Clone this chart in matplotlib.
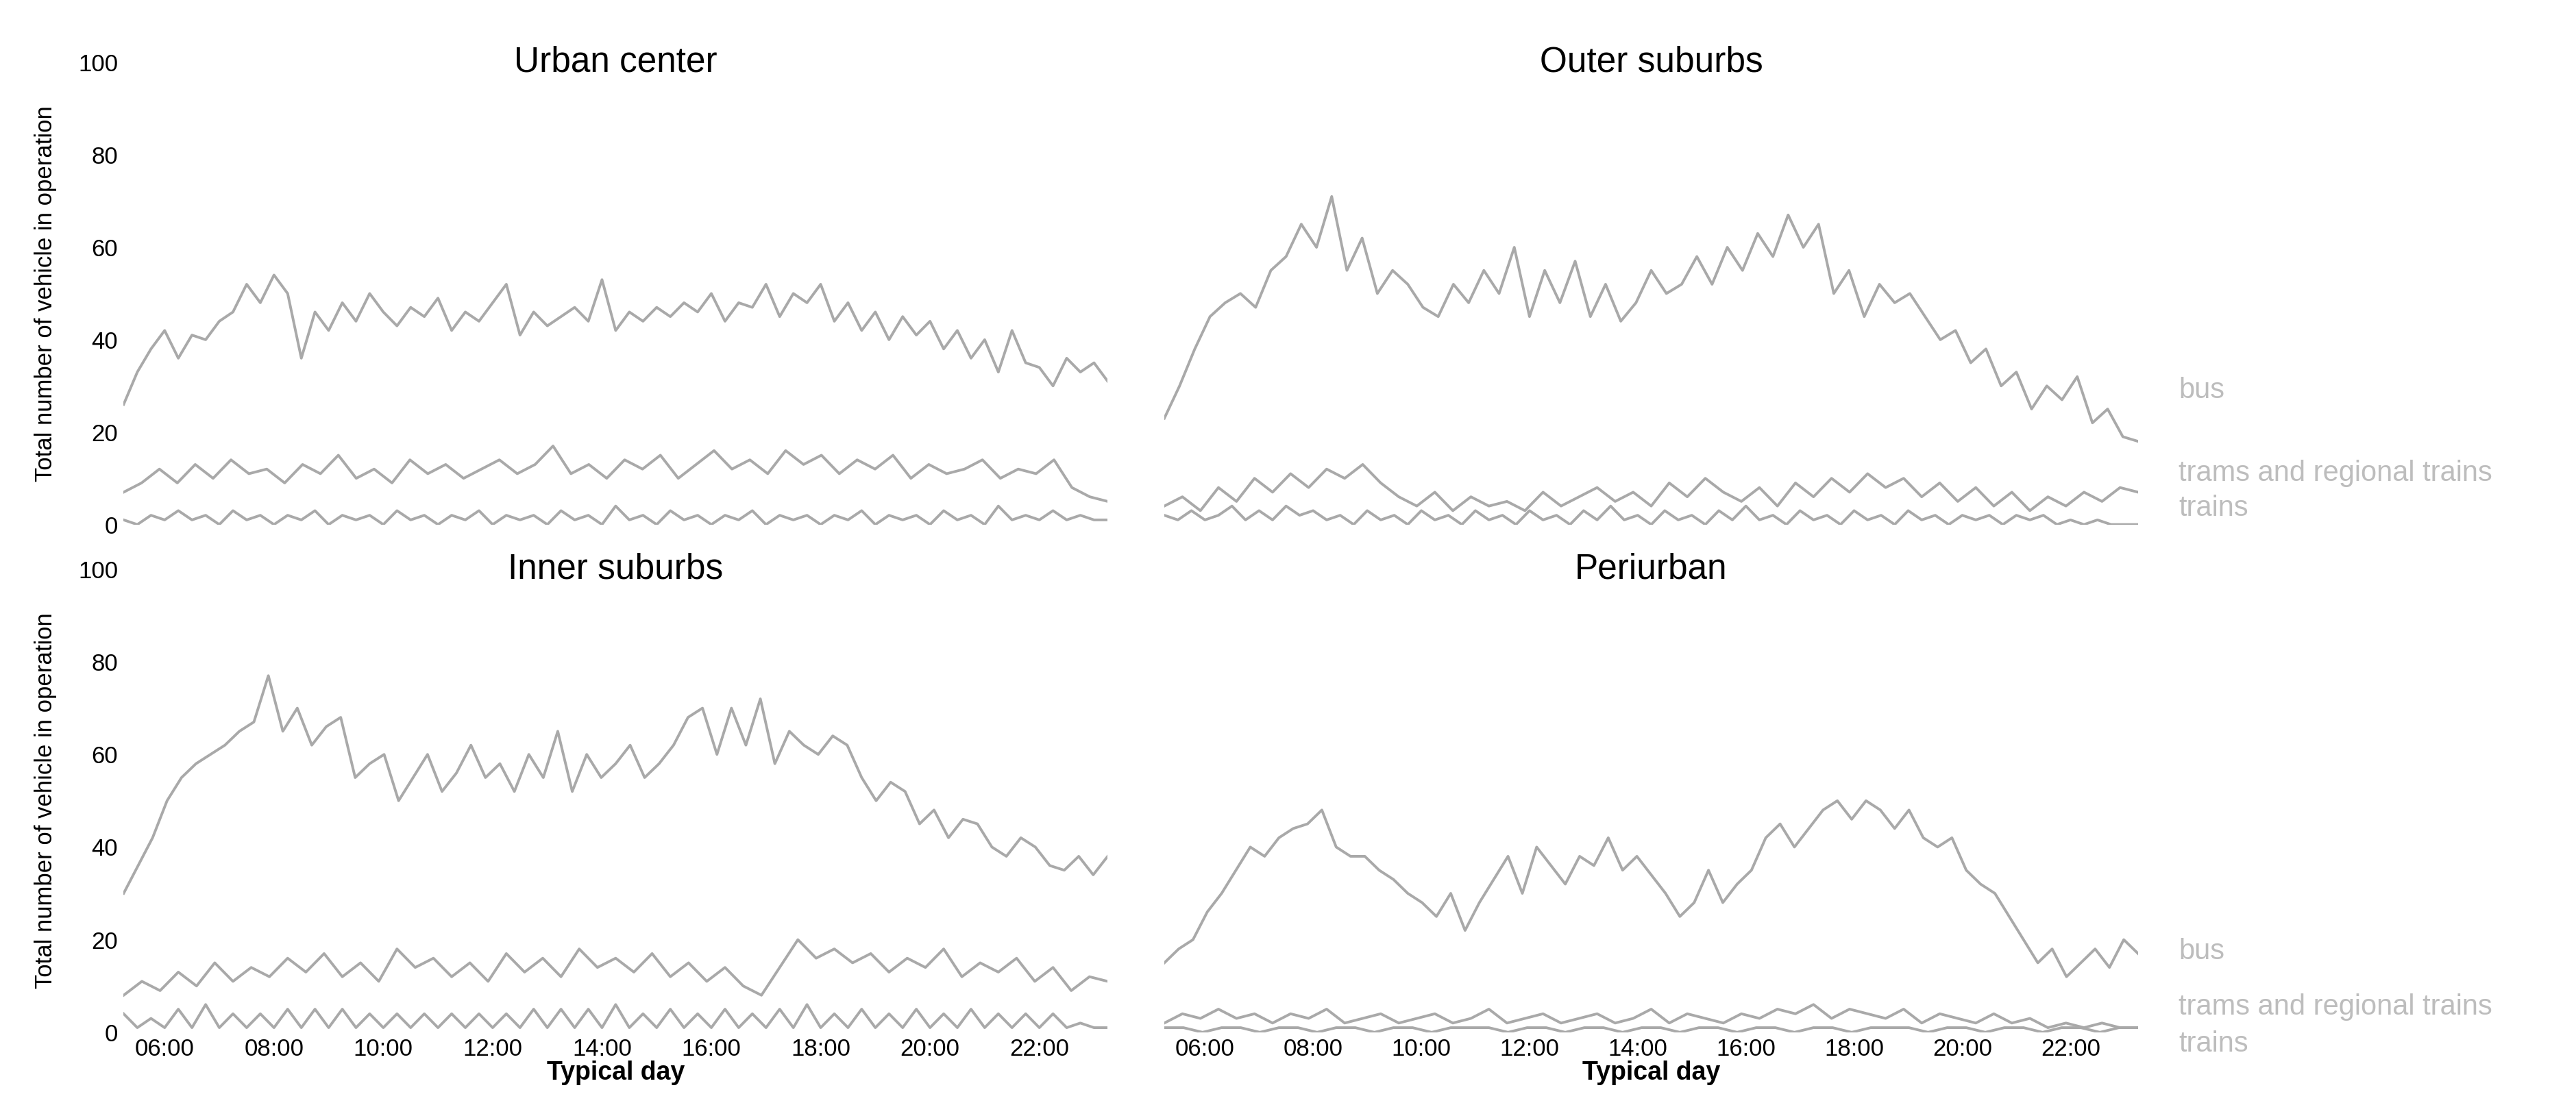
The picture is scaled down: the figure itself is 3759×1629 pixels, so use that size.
import numpy as np
import matplotlib.pyplot as plt

plt.rcParams['font.family'] = ['Liberation Sans', 'DejaVu Sans']

# bus values, read every 15 min from 05:15 to 23:15
uc_bus = [26, 33, 38, 42, 36, 41, 40, 44, 46, 52, 48, 54, 50, 36, 46, 42, 48, 44, 50, 46,
          43, 47, 45, 49, 42, 46, 44, 48, 52, 41, 46, 43, 45, 47, 44, 53, 42, 46, 44, 47,
          45, 48, 46, 50, 44, 48, 47, 52, 45, 50, 48, 52, 44, 48, 42, 46, 40, 45, 41, 44,
          38, 42, 36, 40, 33, 42, 35, 34, 30, 36, 33, 35, 31]
os_bus = [23, 30, 38, 45, 48, 50, 47, 55, 58, 65, 60, 71, 55, 62, 50, 55, 52, 47, 45, 52,
          48, 55, 50, 60, 45, 55, 48, 57, 45, 52, 44, 48, 55, 50, 52, 58, 52, 60, 55, 63,
          58, 67, 60, 65, 50, 55, 45, 52, 48, 50, 45, 40, 42, 35, 38, 30, 33, 25, 30, 27,
          32, 22, 25, 19, 18]
is_bus = [30, 36, 42, 50, 55, 58, 60, 62, 65, 67, 77, 65, 70, 62, 66, 68, 55, 58, 60, 50,
          55, 60, 52, 56, 62, 55, 58, 52, 60, 55, 65, 52, 60, 55, 58, 62, 55, 58, 62, 68,
          70, 60, 70, 62, 72, 58, 65, 62, 60, 64, 62, 55, 50, 54, 52, 45, 48, 42, 46, 45,
          40, 38, 42, 40, 36, 35, 38, 34, 38]
pu_bus = [15, 18, 20, 26, 30, 35, 40, 38, 42, 44, 45, 48, 40, 38, 38, 35, 33, 30, 28, 25,
          30, 22, 28, 33, 38, 30, 40, 36, 32, 38, 36, 42, 35, 38, 34, 30, 25, 28, 35, 28,
          32, 35, 42, 45, 40, 44, 48, 50, 46, 50, 48, 44, 48, 42, 40, 42, 35, 32, 30, 25,
          20, 15, 18, 12, 15, 18, 14, 20, 17]

# trams and regional trains, read every 20 min
uc_tram = [7, 9, 12, 9, 13, 10, 14, 11, 12, 9, 13, 11, 15, 10, 12, 9, 14, 11, 13, 10,
           12, 14, 11, 13, 17, 11, 13, 10, 14, 12, 15, 10, 13, 16, 12, 14, 11, 16, 13, 15,
           11, 14, 12, 15, 10, 13, 11, 12, 14, 10, 12, 11, 14, 8, 6, 5]
os_tram = [4, 6, 3, 8, 5, 10, 7, 11, 8, 12, 10, 13, 9, 6, 4, 7, 3, 6, 4, 5, 3, 7, 4, 6,
           8, 5, 7, 4, 9, 6, 10, 7, 5, 8, 4, 9, 6, 10, 7, 11, 8, 10, 6, 9, 5, 8, 4, 7,
           3, 6, 4, 7, 5, 8, 7]
is_tram = [8, 11, 9, 13, 10, 15, 11, 14, 12, 16, 13, 17, 12, 15, 11, 18, 14, 16, 12, 15,
           11, 17, 13, 16, 12, 18, 14, 16, 13, 17, 12, 15, 11, 14, 10, 8, 14, 20, 16, 18,
           15, 17, 13, 16, 14, 18, 12, 15, 13, 16, 11, 14, 9, 12, 11]
pu_tram = [2, 4, 3, 5, 3, 4, 2, 4, 3, 5, 2, 3, 4, 2, 3, 4, 2, 3, 5, 2, 3, 4, 2, 3, 4, 2,
           3, 5, 2, 4, 3, 2, 4, 3, 5, 4, 6, 3, 5, 4, 3, 5, 2, 4, 3, 2, 4, 2, 3, 1, 2, 1,
           2, 1, 1]

# trains, read every 15 min
uc_train = [1, 0, 2, 1, 3, 1, 2, 0, 3, 1, 2, 0, 2, 1, 3, 0, 2, 1, 2, 0, 3, 1, 2, 0, 2, 1,
            3, 0, 2, 1, 2, 0, 3, 1, 2, 0, 4, 1, 2, 0, 3, 1, 2, 0, 2, 1, 3, 0, 2, 1, 2, 0,
            2, 1, 3, 0, 2, 1, 2, 0, 3, 1, 2, 0, 4, 1, 2, 1, 3, 1, 2, 1, 1]
os_train = [2, 1, 3, 1, 2, 4, 1, 3, 1, 4, 2, 3, 1, 2, 0, 3, 1, 2, 0, 3, 1, 2, 0, 3, 1, 2,
            0, 3, 1, 2, 0, 3, 1, 4, 1, 2, 0, 3, 1, 2, 0, 3, 1, 4, 1, 2, 0, 3, 1, 2, 0, 3,
            1, 2, 0, 3, 1, 2, 0, 2, 1, 2, 0, 2, 1, 2, 0, 1, 0, 1, 0, 0, 0]
is_train = [4, 1, 3, 1, 5, 1, 6, 1, 4, 1, 4, 1, 5, 1, 5, 1, 5, 1, 4, 1, 4, 1, 4, 1, 4, 1,
            4, 1, 4, 1, 5, 1, 5, 1, 5, 1, 6, 1, 4, 1, 5, 1, 4, 1, 5, 1, 4, 1, 5, 1, 6, 1,
            4, 1, 5, 1, 4, 1, 5, 1, 4, 1, 5, 1, 4, 1, 4, 1, 4, 1, 2, 1, 1]
pu_train = [1, 1, 0, 1, 1, 0, 1, 1, 0, 1, 1, 0, 1, 1, 0, 1, 1, 1, 0, 1, 1, 0, 1, 1, 0, 1,
            1, 0, 1, 1, 0, 1, 1, 0, 1, 1, 0, 1, 1, 1, 0, 1, 1, 0, 1, 1, 0, 1, 1, 0, 1, 1]

titles = ["Urban center", "Outer suburbs", "Inner suburbs", "Periurban"]
panels = [(uc_bus, uc_tram, uc_train), (os_bus, os_tram, os_train),
          (is_bus, is_tram, is_train), (pu_bus, pu_tram, pu_train)]
hour_ticks = [6, 8, 10, 12, 14, 16, 18, 20, 22]
hour_labels = ["%02d:00" % h for h in hour_ticks]

t0, t1 = 5.25, 23.25
col = "#a9a9a9"

fig = plt.figure(figsize=(37.59, 16.29), dpi=100)
boxes = [[0.048, 0.530, 0.382, 0.414], [0.452, 0.530, 0.378, 0.414],
         [0.048, 0.075, 0.382, 0.415], [0.452, 0.075, 0.378, 0.415]]

for i, (box, title, series) in enumerate(zip(boxes, titles, panels)):
    ax = fig.add_axes(box)
    for s in series:
        x = np.linspace(t0, t1, len(s))
        ax.plot(x, s, color=col, lw=2.8)
    ax.set_xlim(t0, t1)
    ax.set_ylim(0, 100)
    for sp in ax.spines.values():
        sp.set_visible(False)
    ax.tick_params(length=0, labelsize=25, pad=6)
    ax.set_xticks(hour_ticks)
    ax.set_yticks([0, 20, 40, 60, 80, 100])
    if i % 2 == 0:
        ax.set_ylabel("Total number of vehicle in operation", fontsize=25, labelpad=22)
    else:
        ax.set_yticklabels([])
    if i >= 2:
        ax.set_xticklabels(hour_labels)
        ax.set_xlabel("Typical day", fontsize=27, fontweight="bold", labelpad=0)
    else:
        ax.set_xticklabels([])
    ax.text(0.5, 1.0, title, transform=ax.transAxes, ha="center", va="center", fontsize=37)
    if i % 2 == 1:
        if i == 1:
            ys = [29, 11, 3.5]
        else:
            ys = [17.5, 5.5, -2.5]
        for lab, y in zip(["bus", "trams and regional trains", "trains"], ys):
            ax.text(24.0, y, lab, color="#bdbdbd", fontsize=30, va="center", clip_on=False)

fig.savefig("out.png", dpi=100)
